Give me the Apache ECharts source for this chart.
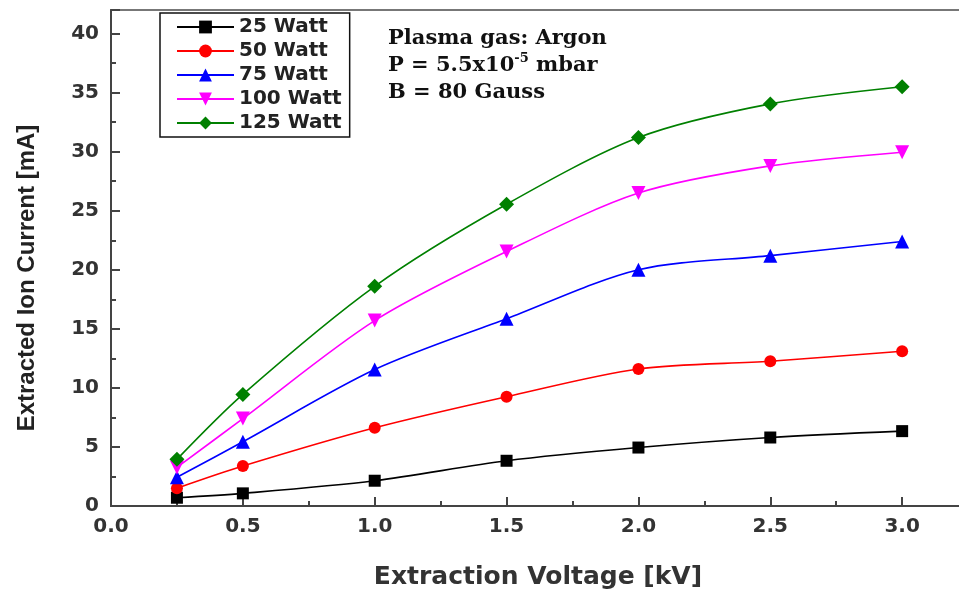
<!DOCTYPE html>
<html>
<head>
<meta charset="utf-8">
<script src="https://cdn.jsdelivr.net/npm/echarts@6/dist/echarts.min.js"></script>
<style>
  html, body { margin: 0; padding: 0; background: #fff; }
  #chart { width: 959px; height: 592px; }
</style>
</head>
<body>
<div id="chart"></div>
<script>
// Extraction voltage (kV)
var voltage = [0.25, 0.5, 1.0, 1.5, 2.0, 2.5, 3.0];

// Extracted ion current (mA) for each RF power
var current25W  = [0.70, 1.07, 2.14, 3.83, 4.95, 5.80, 6.34];
var current50W  = [1.50, 3.38, 6.62, 9.25, 11.60, 12.26, 13.10];
var current75W  = [2.43, 5.44, 11.55, 15.85, 20.00, 21.20, 22.40];
var current100W = [3.27, 7.40, 15.70, 21.55, 26.50, 28.80, 29.96];
var current125W = [3.95, 9.45, 18.60, 25.55, 31.20, 34.05, 35.50];

var seriesNames = ['25 Watt', '50 Watt', '75 Watt', '100 Watt', '125 Watt'];

function pairs(ys) {
  return voltage.map(function (v, i) { return [v, ys[i]]; });
}

var labelFont = { fontFamily: 'DejaVu Sans', fontWeight: 'bold', fontSize: 20, color: '#333' };

function makeSeries(name, ys, color, symbol, size, rotate) {
  return {
    name: name,
    type: 'line',
    data: pairs(ys),
    smooth: 0.3,
    symbol: symbol,
    symbolSize: size,
    symbolRotate: rotate || 0,
    showAllSymbol: true,
    lineStyle: { color: color, width: 1.6 },
    itemStyle: { color: color },
    emphasis: { disabled: true }
  };
}

var chart = echarts.init(document.getElementById('chart'), null, { renderer: 'canvas' });

chart.setOption({
  animation: false,
  backgroundColor: '#fff',
  // plot frame runs past the right edge of the canvas
  grid: {
    left: 111, top: 10, width: 923, height: 496,
    outerBoundsMode: 'none',
    show: true, borderColor: '#777', borderWidth: 2
  },
  legend: {
    orient: 'vertical',
    left: 160, top: 13,
    padding: [4, 8, 4, 16],
    itemWidth: 57, itemHeight: 16, itemGap: 4,
    borderColor: '#111', borderWidth: 1.5,
    backgroundColor: '#fff',
    textStyle: { fontFamily: 'DejaVu Sans', fontWeight: 'bold', fontSize: 20, color: '#222' },
    data: seriesNames
  },
  xAxis: {
    type: 'value',
    min: 0, max: 3.5, interval: 0.5,
    axisLine: { show: true, onZero: false, lineStyle: { color: '#444', width: 2 } },
    axisTick: { show: true, inside: true, length: 9, lineStyle: { color: '#444', width: 2 } },
    minorTick: { show: true, splitNumber: 2, length: 5, lineStyle: { color: '#444', width: 2 } },
    splitLine: { show: false },
    axisLabel: Object.assign({ margin: 11, showMaxLabel: false,
      formatter: function (v) { return v.toFixed(1); } }, labelFont)
  },
  yAxis: {
    type: 'value',
    min: 0, max: 42, interval: 5,
    axisLine: { show: true, onZero: false, lineStyle: { color: '#444', width: 2 } },
    axisTick: { show: true, inside: true, length: 9, lineStyle: { color: '#444', width: 2 } },
    minorTick: { show: true, splitNumber: 2, length: 5, lineStyle: { color: '#444', width: 2 } },
    splitLine: { show: false },
    axisLabel: Object.assign({ margin: 12, showMaxLabel: false }, labelFont)
  },
  graphic: [
    {
      type: 'text', left: 388, top: 25,
      style: {
        text: 'Plasma gas: Argon\n{t|P = 5.5x10}{sup|-5}{t| mbar}\nB = 80 Gauss',
        fontFamily: 'DejaVu Serif', fontWeight: 'bold', fontSize: 21,
        lineHeight: 27, fill: '#111',
        rich: {
          t: { fontFamily: 'DejaVu Serif', fontWeight: 'bold', fontSize: 21, lineHeight: 27, fill: '#111' },
          sup: { fontFamily: 'DejaVu Serif', fontWeight: 'bold', fontSize: 13, lineHeight: 27,
                 fill: '#111', verticalAlign: 'top', padding: [0, 0, 12, 0] }
        }
      }
    },
    {
      type: 'text', x: 538, y: 577,
      style: {
        text: 'Extraction Voltage [kV]', align: 'center', verticalAlign: 'middle',
        fontFamily: 'DejaVu Sans', fontWeight: 'bold', fontSize: 25, fill: '#333'
      }
    },
    {
      type: 'text', x: 27, y: 278, rotation: Math.PI / 2,
      style: {
        text: 'Extracted Ion Current [mA]', align: 'center', verticalAlign: 'middle',
        fontFamily: 'Liberation Sans', fontWeight: 'bold', fontSize: 24, fill: '#222'
      }
    }
  ],
  series: [
    makeSeries(seriesNames[0], current25W, '#000000', 'rect', 12),
    makeSeries(seriesNames[1], current50W, '#ff0000', 'circle', 12),
    makeSeries(seriesNames[2], current75W, '#0000ff', 'triangle', 14),
    makeSeries(seriesNames[3], current100W, '#ff00ff', 'triangle', 14, 180),
    makeSeries(seriesNames[4], current125W, '#008000', 'diamond', 15)
  ]
});
</script>
</body>
</html>
